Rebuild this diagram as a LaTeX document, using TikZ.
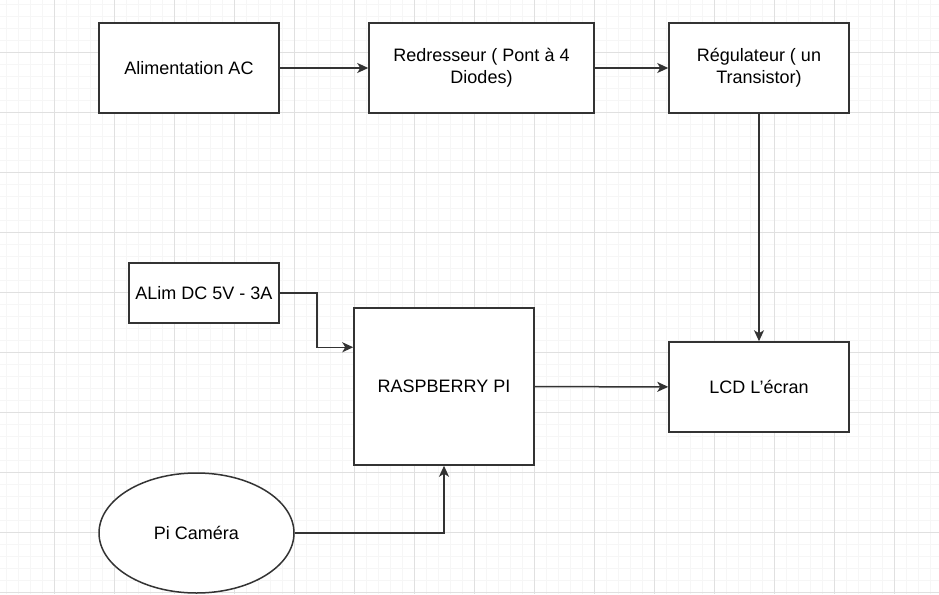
\documentclass[tikz,border=0pt]{standalone}
\usepackage{fontspec}
\setmainfont{Liberation Sans}
\usetikzlibrary{shapes.geometric,arrows.meta}
\definecolor{gridminor}{HTML}{F6F6F6}
\definecolor{gridmajor}{HTML}{E0E0E0}
\definecolor{edge}{HTML}{333333}
\tikzset{
  block/.style={draw=edge, line width=1.5pt, fill=white, align=center,
    font=\fontsize{18}{22}\selectfont, inner sep=0pt},
  conn/.style={draw=edge, line width=1.5pt, -{Stealth[length=11pt,width=10pt,inset=3pt]}}
}
\begin{document}
\begin{tikzpicture}[x=1pt,y=-1pt]
  \useasboundingbox (0,0) rectangle (939,594);
  \fill[white] (0,0) rectangle (939,594);
  \foreach \x in {6,18,...,930} \draw[gridminor,line width=0.8pt] (\x,0) -- (\x,594);
  \foreach \y in {4,16,...,592} \draw[gridminor,line width=0.8pt] (0,\y) -- (939,\y);
  \foreach \x in {54,114,...,894} \draw[gridmajor,line width=0.9pt] (\x,0) -- (\x,594);
  \foreach \y in {52,112,...,592} \draw[gridmajor,line width=0.9pt] (0,\y) -- (939,\y);

  \node[block, minimum width=180pt, minimum height=90pt] (ac) at (189,68) {Alimentation AC};
  \node[block, minimum width=225pt, minimum height=90pt] (red) at (481.5,68) {Redresseur ( Pont à 4\\Diodes)};
  \node[block, minimum width=180pt, minimum height=90pt] (reg) at (759,68) {Régulateur ( un\\Transistor)};
  \node[block, minimum width=150pt, minimum height=60pt] (dc) at (204,293) {ALim DC 5V - 3A};
  \node[block, minimum width=180pt, minimum height=157pt] (rpi) at (444,386.5) {RASPBERRY PI};
  \node[block, minimum width=180pt, minimum height=90pt] (lcd) at (759,387) {LCD L'écran};
  \node[block, ellipse, minimum width=195pt, minimum height=120pt] (cam) at (196.5,533) {Pi Caméra};

  \draw[conn] (ac) -- (red);
  \draw[conn] (red) -- (reg);
  \draw[conn] (reg) -- (lcd);
  \draw[conn] (rpi) -- (lcd);
  \draw[conn] (dc.east) -- ++(37,0) |- ([yshift=-40pt]rpi.north west);
  \draw[conn] (cam.east) -| (rpi.south);
\end{tikzpicture}
\end{document}
